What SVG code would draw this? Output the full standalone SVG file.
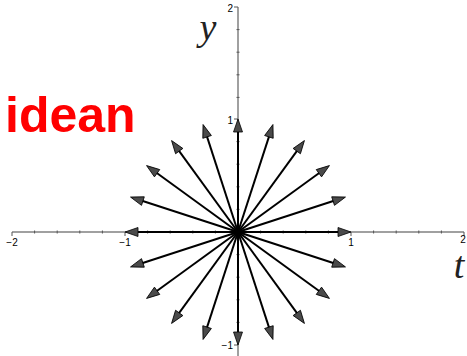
<svg xmlns="http://www.w3.org/2000/svg" width="467" height="356" viewBox="0 0 467 356">
<style>
.ax{stroke:#808080;stroke-width:1.5;fill:none}
.tk{stroke:#555;stroke-width:1;fill:none}
.lbl{font-family:"Liberation Sans",Arial,sans-serif;font-size:10px;fill:#000}
.var{font-family:"Liberation Serif","Times New Roman",serif;font-style:italic;font-size:38px;fill:#222}
.vec{stroke:#000;stroke-width:2;fill:none;marker-end:url(#ah)}
</style>
<defs>
<marker id="ah" markerUnits="userSpaceOnUse" orient="auto" refX="0" refY="0" markerWidth="20" markerHeight="20" overflow="visible">
<path d="M8,0 L-5,-4.5 L-5,4.5 Z" fill="#4a4a4a" stroke="#000" stroke-width="0.8" stroke-linejoin="round"/>
</marker>
</defs>
<rect width="467" height="356" fill="#fff"/>
<g id="axes">
<line class="ax" x1="12" y1="232" x2="464" y2="232"/>
<line class="ax" x1="238" y1="7" x2="238" y2="356"/>
<path class="tk" d="M12,232v4 M125,232v4 M351,232v4 M464,232v4
M34.6,230.5v3 M57.2,230.5v3 M79.8,230.5v3 M102.4,230.5v3 M147.6,230.5v3 M170.2,230.5v3 M192.8,230.5v3 M215.4,230.5v3
M260.6,230.5v3 M283.2,230.5v3 M305.8,230.5v3 M328.4,230.5v3 M373.6,230.5v3 M396.2,230.5v3 M418.8,230.5v3 M441.4,230.5v3
M238,7h-4 M238,119h-4 M238,345h-4
M236.5,29.6h3 M236.5,52.2h3 M236.5,74.8h3 M236.5,97.4h3 M236.5,141.6h3 M236.5,164.2h3 M236.5,186.8h3 M236.5,209.4h3
M236.5,254.6h3 M236.5,277.2h3 M236.5,299.8h3 M236.5,322.4h3"/>
</g>
<g id="labels">
<text class="lbl" x="12" y="246" text-anchor="middle">−2</text>
<text class="lbl" x="125" y="246" text-anchor="middle">−1</text>
<text class="lbl" x="351" y="246" text-anchor="middle">1</text>
<text class="lbl" x="463" y="243" text-anchor="middle">2</text>
<text class="lbl" x="233" y="12" text-anchor="end">2</text>
<text class="lbl" x="233" y="124" text-anchor="end">1</text>
<text class="lbl" x="233" y="349" text-anchor="end">−1</text>
<text class="var" x="208" y="40" text-anchor="middle">y</text>
<text class="var" x="459" y="278" text-anchor="middle" font-size="35">t</text>
<text x="5" y="132" font-family="'Liberation Sans',Arial,sans-serif" font-weight="bold" font-size="50" fill="#ff0000">idean</text>
</g>
<g id="connectors">
<line class="vec" x1="238" y1="232" x2="343" y2="232"/>
<line class="vec" x1="238" y1="232" x2="337.86" y2="199.55"/>
<line class="vec" x1="238" y1="232" x2="322.95" y2="170.28"/>
<line class="vec" x1="238" y1="232" x2="299.72" y2="147.05"/>
<line class="vec" x1="238" y1="232" x2="270.45" y2="132.14"/>
<line class="vec" x1="238" y1="232" x2="238" y2="127"/>
<line class="vec" x1="238" y1="232" x2="205.55" y2="132.14"/>
<line class="vec" x1="238" y1="232" x2="176.28" y2="147.05"/>
<line class="vec" x1="238" y1="232" x2="153.05" y2="170.28"/>
<line class="vec" x1="238" y1="232" x2="138.14" y2="199.55"/>
<line class="vec" x1="238" y1="232" x2="133" y2="232"/>
<line class="vec" x1="238" y1="232" x2="138.14" y2="264.45"/>
<line class="vec" x1="238" y1="232" x2="153.05" y2="293.72"/>
<line class="vec" x1="238" y1="232" x2="176.28" y2="316.95"/>
<line class="vec" x1="238" y1="232" x2="205.55" y2="331.86"/>
<line class="vec" x1="238" y1="232" x2="238" y2="337"/>
<line class="vec" x1="238" y1="232" x2="270.45" y2="331.86"/>
<line class="vec" x1="238" y1="232" x2="299.72" y2="316.95"/>
<line class="vec" x1="238" y1="232" x2="322.95" y2="293.72"/>
<line class="vec" x1="238" y1="232" x2="337.86" y2="264.45"/>
</g>
</svg>
